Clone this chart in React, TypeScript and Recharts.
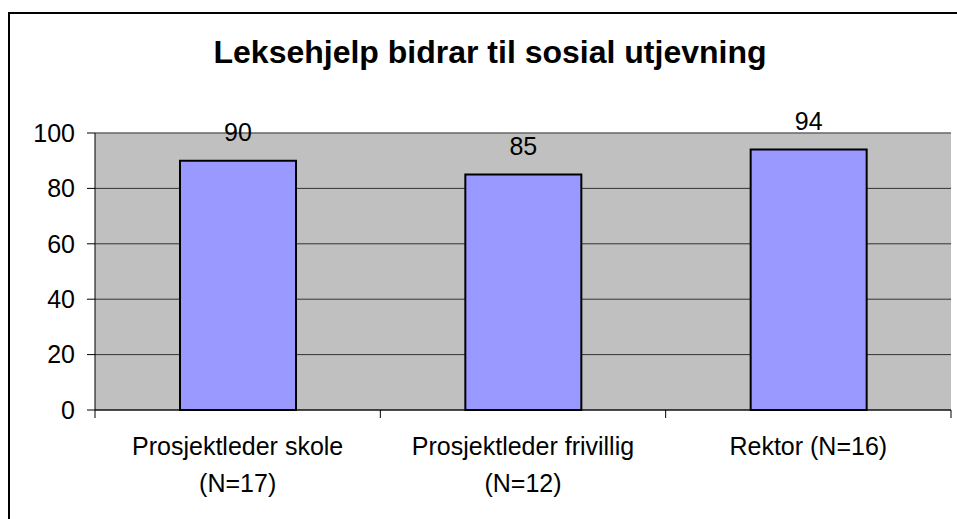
import { BarChart, Bar, XAxis, YAxis, CartesianGrid, LabelList, ReferenceLine } from "recharts";

const categories = [
  ["Prosjektleder skole", "(N=17)"],
  ["Prosjektleder frivillig", "(N=12)"],
  ["Rektor (N=16)"],
];
const values = [90, 85, 94];
const yTicks = [0, 20, 40, 60, 80, 100];

const data = categories.map((lines, i) => ({ name: lines.join(" "), lines, value: values[i] }));

const font = "'Liberation Sans', Arial, sans-serif";

const CategoryTick = (props: any) => {
  const { x, y, payload, index, visibleTicksCount } = props;
  const half = payload.offset || (957 - 95 - 6) / 3 / 2;
  const lines: string[] = data[index]?.lines ?? [String(payload.value)];
  return (
    <g>
      <line x1={x - half} x2={x - half} y1={y} y2={y + 8} stroke="#000" />
      {index === (visibleTicksCount ?? data.length) - 1 && (
        <line x1={x + half} x2={x + half} y1={y} y2={y + 8} stroke="#000" />
      )}
      {lines.map((t, i) => (
        <text key={i} x={x} y={y + 45 + i * 37} textAnchor="middle" fontSize={25} fill="#000" fontFamily={font}>
          {t}
        </text>
      ))}
    </g>
  );
};

export default function App() {
  return (
    <div style={{ position: "absolute", left: 0, top: 0, width: 957, height: 519, background: "#fff", overflow: "hidden", fontFamily: font }}>
      <div style={{ position: "absolute", left: 8, top: 12, width: 990, height: 540, border: "2px solid #000", boxSizing: "border-box" }} />
      <div style={{ position: "absolute", left: 8, top: 36, width: 964, textAlign: "center", fontSize: 32, lineHeight: "32px", fontWeight: "bold", color: "#000" }}>
        Leksehjelp bidrar til sosial utjevning
      </div>
      <div style={{ position: "absolute", left: 0, top: 0 }}>
        <BarChart width={957} height={519} data={data} margin={{ top: 133, right: 6, bottom: 9, left: 0 }}>
          <CartesianGrid vertical={false} stroke="#333" fill="#C0C0C0" fillOpacity={1} />
          <XAxis
            dataKey="name"
            height={100}
            tickSize={0}
            tickMargin={0}
            axisLine={{ stroke: "#000" }}
            tick={<CategoryTick />}
            interval={0}
          />
          <YAxis
            width={95}
            domain={[0, 100]}
            ticks={yTicks}
            tickSize={8}
            tickMargin={12}
            axisLine={{ stroke: "#000" }}
            tickLine={{ stroke: "#000" }}
            tick={{ fill: "#000", fontSize: 25, fontFamily: font }}
          />
          <YAxis yAxisId="r" orientation="right" width={0} domain={[0, 100]} tick={false} tickLine={false} axisLine={{ stroke: "#808080" }} />
          <ReferenceLine y={100} stroke="#808080" />
          <Bar dataKey="value" fill="#9999FF" stroke="#000" strokeWidth={2} barSize={116} isAnimationActive={false}>
            <LabelList dataKey="value" position="top" offset={20} fill="#000" fontSize={25} fontFamily={font} />
          </Bar>
        </BarChart>
      </div>
    </div>
  );
}
